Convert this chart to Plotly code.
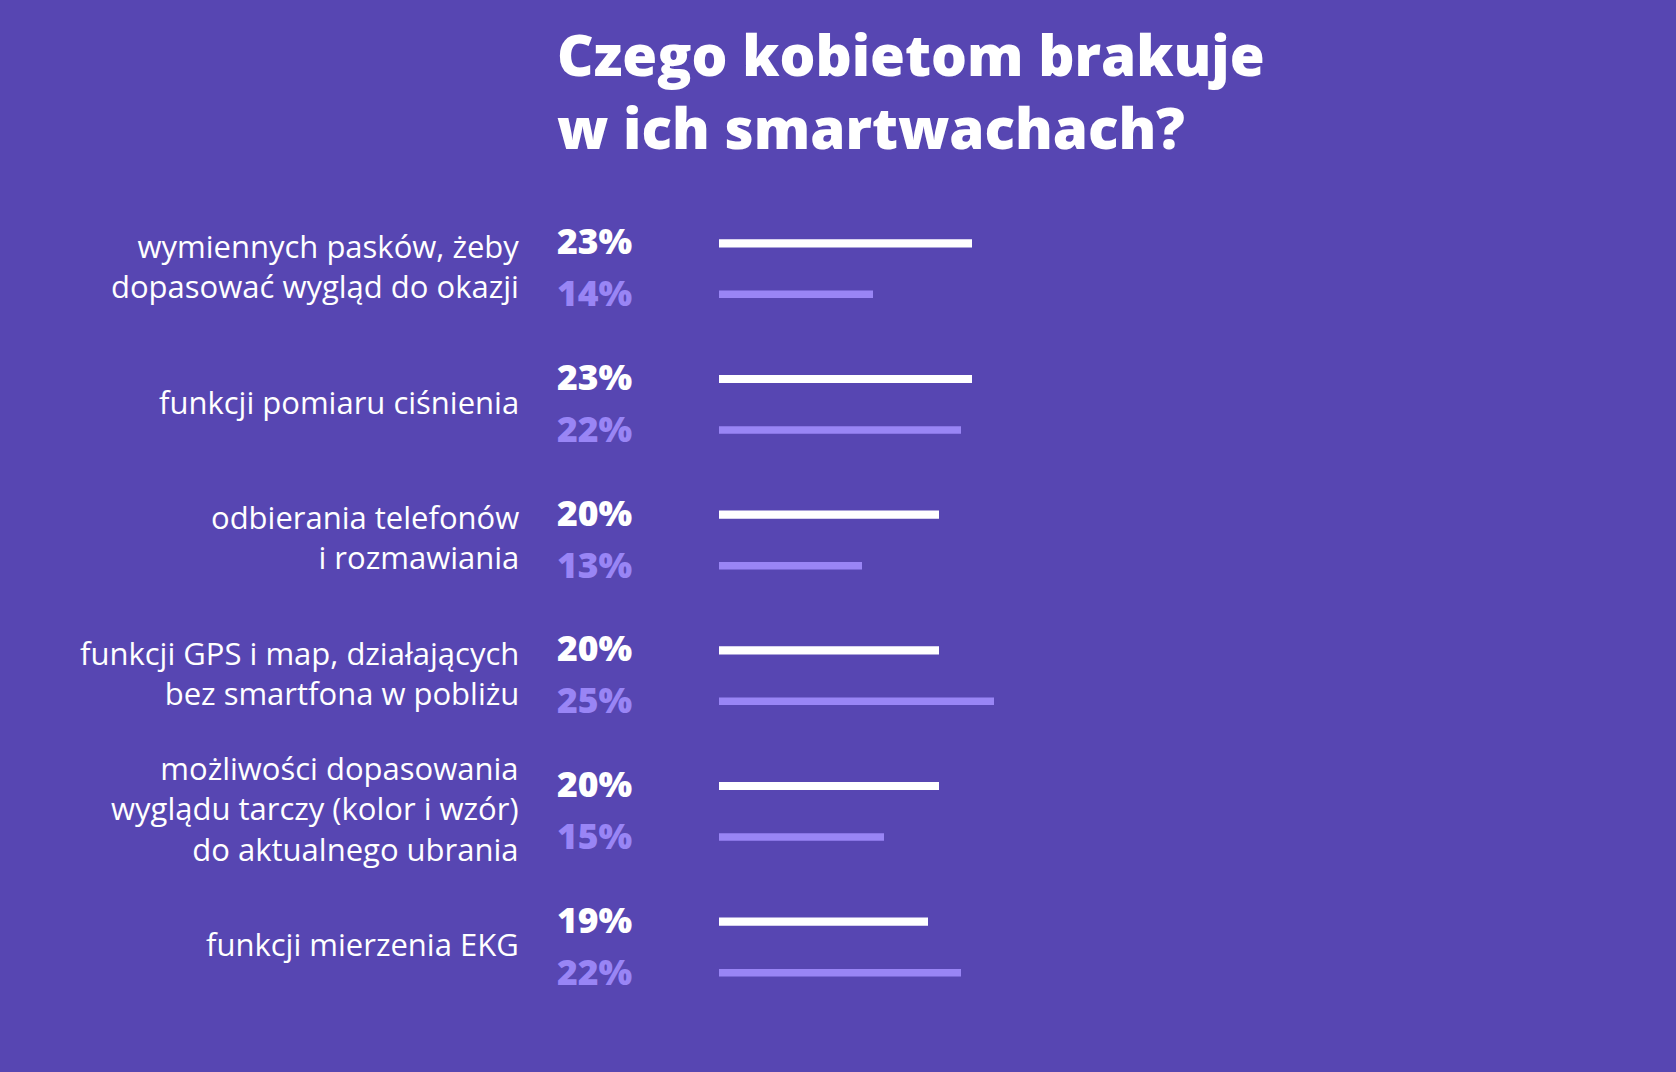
import plotly.graph_objects as go

categories = [
    "wymiennych pasków, żeby<br>dopasować wygląd do okazji",
    "funkcji pomiaru ciśnienia",
    "odbierania telefonów<br>i rozmawiania",
    "funkcji GPS i map, działających<br>bez smartfona w pobliżu",
    "możliwości dopasowania<br>wyglądu tarczy (kolor i wzór)<br>do aktualnego ubrania",
    "funkcji mierzenia EKG",
]
series_white = [23, 23, 20, 20, 20, 19]
series_light = [14, 22, 13, 25, 15, 22]
title_text = "Czego kobietom brakuje<br>w ich smartwachach?"

BG = "#5746B2"
LIGHT = "#9985F5"
WHITE = "#FFFFFF"
FONT = "Open Sans"

OFF = 0.188
idx = list(range(len(categories)))
y_white = [i - OFF for i in idx]
y_light = [i + OFF for i in idx]

fig = go.Figure()
fig.add_trace(go.Bar(x=series_white, y=y_white, orientation="h", width=0.06,
                     marker=dict(color=WHITE, line=dict(width=0)), hoverinfo="x"))
fig.add_trace(go.Bar(x=series_light, y=y_light, orientation="h", width=0.055,
                     marker=dict(color=LIGHT, line=dict(width=0)), hoverinfo="x"))

ann = []
for i, c in enumerate(categories):
    ann.append(dict(x=0, y=i, xref="x", yref="y", text=c, showarrow=False,
                    xanchor="right", yanchor="middle", align="right",
                    xshift=-198, yshift=3,
                    font=dict(family=FONT, size=31, color=WHITE)))
for yv, v in zip(y_white, series_white):
    ann.append(dict(x=0, y=yv, xref="x", yref="y", text=f"{v}%", showarrow=False,
                    xanchor="left", yanchor="middle", xshift=-164, yshift=3,
                    font=dict(family=FONT, size=35.5, color=WHITE, weight=800)))
for yv, v in zip(y_light, series_light):
    ann.append(dict(x=0, y=yv, xref="x", yref="y", text=f"{v}%", showarrow=False,
                    xanchor="left", yanchor="middle", xshift=-164, yshift=2,
                    font=dict(family=FONT, size=35.5, color=LIGHT, weight=800)))
ann.append(dict(x=0, y=1 + (201 - 14) / 814, xref="x", yref="paper", text=title_text,
                showarrow=False, xanchor="left", yanchor="top", align="left",
                xshift=-164, font=dict(family=FONT, size=56.5, color=WHITE, weight=800)))

fig.update_layout(
    width=1676, height=1072,
    paper_bgcolor=BG, plot_bgcolor=BG,
    margin=dict(l=719, r=0, t=201, b=57),
    showlegend=False,
    barmode="overlay",
    xaxis=dict(range=[0, 87], visible=False, fixedrange=True),
    yaxis=dict(range=[5.5, -0.5], visible=False, fixedrange=True),
    annotations=ann,
)

fig.write_html("out.html", config={"displayModeBar": False},
               post_script="document.body.style.margin='0';")
